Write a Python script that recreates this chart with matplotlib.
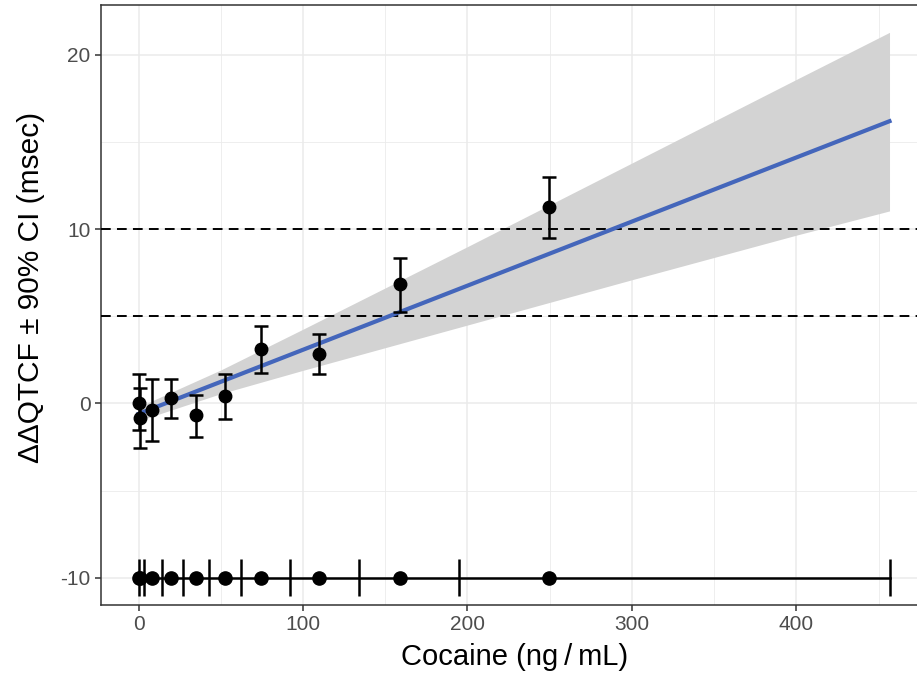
import matplotlib
matplotlib.use("Agg")
import matplotlib.pyplot as plt
import numpy as np

plt.rcParams["font.family"] = ["Liberation Sans", "DejaVu Sans"]
plt.rcParams["lines.scale_dashes"] = False
plt.rcParams["axes.unicode_minus"] = False

# binned concentration means with observed ddQTcF and 90% CI
conc = [0.0, 0.8, 8.3, 20.0, 35.2, 52.4, 74.7, 109.5, 159.0, 249.7]
dqtc = [0.05, -0.84, -0.36, 0.29, -0.67, 0.44, 3.14, 2.86, 6.85, 11.3]
dqtc_lo = [-1.52, -2.55, -2.13, -0.86, -1.90, -0.90, 1.77, 1.71, 5.26, 9.50]
dqtc_hi = [1.67, 0.86, 1.39, 1.39, 0.50, 1.71, 4.47, 3.96, 8.34, 13.0]

# concentration bin edges shown along the bottom
bin_edges = [0.0, 3.2, 14.0, 27.1, 43.1, 62.4, 92.3, 134.0, 195.0, 456.6]
bin_y = -10

# model prediction and its 90% confidence band
fit_x = [0.0, 50.0, 100.0, 200.0, 300.0, 400.0, 456.6]
fit_y = [-0.6, 1.24, 3.08, 6.76, 10.44, 14.12, 16.2]
fit_lo = [-1.0, 0.56, 1.90, 4.50, 7.10, 9.66, 11.05]
fit_hi = [-0.2, 1.92, 4.26, 9.00, 13.80, 18.60, 21.30]

thresholds = [5, 10]

fig = plt.figure(figsize=(9.17, 6.86), dpi=100)
ax = fig.add_axes([101 / 917, 81 / 686, (928 - 101) / 917, 600 / 686])

ax.set_xlim(-22.8, 480)
ax.set_ylim(-11.57, 22.87)

# grid in the theme_bw style
for v in np.arange(0, 500, 50):
    ax.axvline(v, color="#EBEBEB", lw=1.1 if v % 100 == 0 else 0.6, zorder=0)
for v in np.arange(-10, 25, 5):
    ax.axhline(v, color="#EBEBEB", lw=1.1 if v % 10 == 0 else 0.6, zorder=0)

for t in thresholds:
    ax.axhline(t, color="black", lw=1.4, dashes=(7, 4.5), zorder=3)

ax.fill_between(fit_x, fit_lo, fit_hi, color="#D3D3D3", lw=0, zorder=2)
ax.plot(fit_x, fit_y, color="#4466BB", lw=3.0, zorder=4)

yerr = [np.array(dqtc) - np.array(dqtc_lo), np.array(dqtc_hi) - np.array(dqtc)]
ax.errorbar(conc, dqtc, yerr=yerr, fmt="o", color="black", ms=9,
            elinewidth=1.8, capsize=5, capthick=1.8, zorder=5)

# concentration bins
ax.plot([bin_edges[0], bin_edges[-1]], [bin_y, bin_y], color="black", lw=1.8, zorder=5)
ax.vlines(bin_edges, bin_y - 1.05, bin_y + 1.05, color="black", lw=1.8, zorder=5)
ax.plot(conc, [bin_y] * len(conc), "o", color="black", ms=9.5, zorder=6)

ax.set_xticks([0, 100, 200, 300, 400])
ax.set_yticks([-10, 0, 10, 20])
ax.tick_params(axis="both", labelsize=15, labelcolor="#4D4D4D", color="#333333",
               length=4, width=1.1)
for s in ax.spines.values():
    s.set_color("#333333")
    s.set_linewidth(1.1)

ax.set_xlabel("Cocaine (ng\u2009/\u2009mL)", fontsize=21, labelpad=6)
ax.set_ylabel("ΔΔQTCF ± 90% CI (msec)", fontsize=21.5, labelpad=6)
ax.yaxis.set_label_coords(-0.068, 0.53)

fig.savefig("out.png", dpi=100)
